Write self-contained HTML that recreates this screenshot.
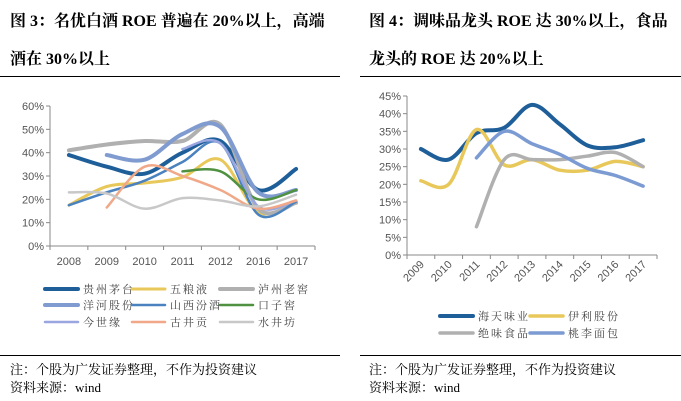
<!DOCTYPE html>
<html><head><meta charset="utf-8">
<style>
body{margin:0;background:#fff;width:681px;height:401px;overflow:hidden;position:relative;font-family:"Liberation Serif","Noto Serif CJK SC",serif;}
.t{position:absolute;font-weight:bold;font-size:16px;color:#000;white-space:nowrap;}
.n{position:absolute;font-size:13px;color:#000;white-space:nowrap;}
.hr{position:absolute;height:1px;background:#000;}
svg{position:absolute;left:0;top:0;}
</style></head><body>
<div class="t" style="left:10px;top:8px">图 3：名优白酒 ROE 普遍在 20%以上，高端</div>
<div class="t" style="left:10px;top:46px">酒在 30%以上</div>
<div class="t" style="left:369px;top:8px">图 4：调味品龙头 ROE 达 30%以上，食品</div>
<div class="t" style="left:369px;top:46px">龙头的 ROE 达 20%以上</div>
<div class="hr" style="left:0;top:76px;width:340px"></div>
<div class="hr" style="left:360px;top:76px;width:321px"></div>
<div class="hr" style="left:0;top:355px;width:340px"></div>
<div class="hr" style="left:360px;top:355px;width:321px"></div>
<div class="n" style="left:10px;top:359px">注：个股为广发证券整理，不作为投资建议</div>
<div class="n" style="left:10px;top:377px">资料来源：wind</div>
<div class="n" style="left:369px;top:359px">注：个股为广发证券整理，不作为投资建议</div>
<div class="n" style="left:369px;top:377px">资料来源：wind</div>
<svg id="s" width="681" height="401"></svg>
<script>
const leftCats=["2008","2009","2010","2011","2012","2016","2017"];
const leftTicks=[0,10,20,30,40,50,60];
const leftNames=["贵州茅台","五粮液","泸州老窖","洋河股份","山西汾酒","口子窖","今世缘","古井贡","水井坊"];
const maotai=[39,34,31,40,45,24,33];
const wuliangye=[17.5,25.5,27,29.5,37,14.5,19];
const luzhou=[41,43.5,45,45,52,16,18.5];
const yanghe=[null,39,37,48,51,23,24];
const fenjiu=[17.5,23,28,36,44,13.5,19];
const kouzijiao=[null,null,null,32,32,20,24];
const jinshiyuan=[null,null,null,41.5,44,17,19.5];
const gujing=[null,16.5,34,30,24,16,19.5];
const shuijing=[23,22.5,16,20.5,19.5,17,22];
const rightCats=["2009","2010","2011","2012","2013","2014","2015","2016","2017"];
const rightTicks=[0,5,10,15,20,25,30,35,40,45];
const rightNames=["海天味业","伊利股份","绝味食品","桃李面包"];
const haitian=[30,27,34.5,36,42.5,37,31,30.5,32.5];
const yili=[21,20,35.5,25.5,27,24,24,26.5,25];
const juewei=[null,null,8,27,27,27,28,29,25];
const taoli=[null,null,27.5,35,31.5,28.5,24.5,22.5,19.5];

const NS="http://www.w3.org/2000/svg";
const svg=document.getElementById('s');
function mk(t,a,p){const e=document.createElementNS(NS,t);for(const k in a)e.setAttribute(k,a[k]);(p||svg).appendChild(e);return e;}
function smooth(pts){let d="M"+pts[0][0]+","+pts[0][1];for(let i=0;i<pts.length-1;i++){const p0=pts[i-1]||pts[i],p1=pts[i],p2=pts[i+1],p3=pts[i+2]||p2;const t=1/6;d+=" C"+(p1[0]+(p2[0]-p0[0])*t)+","+(p1[1]+(p2[1]-p0[1])*t)+" "+(p2[0]-(p3[0]-p1[0])*t)+","+(p2[1]-(p3[1]-p1[1])*t)+" "+p2[0]+","+p2[1];}return d;}

function chart(cfg){
  const g=mk('g',{});
  
  
  const n=cfg.cats.length,bw=(cfg.x1-cfg.x0)/n;
  const xs=i=>cfg.x0+bw*(i+0.5);
  const ys=v=>cfg.yb-(v/cfg.max)*(cfg.yb-cfg.yt);
  mk('line',{x1:cfg.x0,x2:cfg.x0,y1:cfg.yt,y2:cfg.yb,stroke:'#888','stroke-width':1},g);
  mk('line',{x1:cfg.x0,x2:cfg.x1,y1:cfg.yb,y2:cfg.yb,stroke:'#888','stroke-width':1},g);
  cfg.ticks.forEach(v=>{
    const y=ys(v);
    mk('line',{x1:cfg.x0-4,x2:cfg.x0,y1:y,y2:y,stroke:'#888'},g);
    const t=mk('text',{x:cfg.x0-6,y:y+4,'text-anchor':'end','font-size':11,fill:'#555','font-family':'Liberation Sans,sans-serif'},g);
    t.textContent=v+"%";
    
    
  });
  for(let i=0;i<=n;i++){const x=cfg.x0+bw*i;mk('line',{x1:x,x2:x,y1:cfg.yb,y2:cfg.yb+4,stroke:'#888'},g);}
  cfg.cats.forEach((c,i)=>{
    let t;
    if(cfg.rot){t=mk('text',{x:xs(i)+4,y:cfg.yb+10,'text-anchor':'end','font-size':11,fill:'#555','font-family':'Liberation Sans,sans-serif',transform:'rotate(-45 '+(xs(i)+4)+' '+(cfg.yb+10)+')'},g);}
    else t=mk('text',{x:xs(i),y:cfg.yb+19,'text-anchor':'middle','font-size':11,fill:'#555','font-family':'Liberation Sans,sans-serif'},g);
    t.textContent=c;
    
    
  });
  cfg.series.forEach((s,k)=>{
    const pts=[];s.data.forEach((v,i)=>{if(v!=null)pts.push([xs(i),ys(v)]);});
    const p=mk('path',{d:smooth(pts),fill:'none',stroke:s.color,'stroke-width':s.w,'stroke-linecap':'round','stroke-linejoin':'round'},g);
    
    
  });
  cfg.legend.forEach((L,k)=>{
    const s=cfg.series[k];
    const lg=mk('g',{},g);
    
    
    mk('line',{x1:L[0],x2:L[0]+33,y1:L[1],y2:L[1],stroke:s.color,'stroke-width':s.w,'stroke-linecap':'round'},lg);
    const t=mk('text',{x:L[0]+38,y:L[1]+4,'font-size':11,fill:'#444','letter-spacing':'2','font-family':'Noto Serif CJK SC,serif'},lg);
    t.textContent=cfg.names[k];
  });
}
chart({name:'left-chart',cats:leftCats,ticks:leftTicks,max:60,x0:50,x1:315,yt:106,yb:246,rot:false,names:leftNames,
 series:[
  {id:'maotai',data:maotai,color:'#1f5f99',w:4},
  {id:'wuliangye',data:wuliangye,color:'#e8c85a',w:3},
  {id:'luzhou',data:luzhou,color:'#b0b0b0',w:4},
  {id:'yanghe',data:yanghe,color:'#7f9bd0',w:4},
  {id:'fenjiu',data:fenjiu,color:'#4a82bf',w:2.5},
  {id:'kouzijiao',data:kouzijiao,color:'#4f9140',w:2.5},
  {id:'jinshiyuan',data:jinshiyuan,color:'#9aa6e0',w:2.5},
  {id:'gujing',data:gujing,color:'#f0a888',w:2.5},
  {id:'shuijing',data:shuijing,color:'#c8c8c8',w:2.5}],
 legend:[[45,289],[132,289],[220,289],[45,305],[132,305],[220,305],[45,322],[132,322],[220,322]]});
chart({name:'right-chart',cats:rightCats,ticks:rightTicks,max:45,x0:407,x1:657,yt:96,yb:255,rot:true,names:rightNames,
 series:[
  {id:'haitian',data:haitian,color:'#1f5f99',w:4},
  {id:'yili',data:yili,color:'#e8c85a',w:3.5},
  {id:'juewei',data:juewei,color:'#b0b0b0',w:3.5},
  {id:'taoli',data:taoli,color:'#7b9bd2',w:3.5}],
 legend:[[440,316],[530,316],[440,333],[530,333]]});
</script>
</body></html>
